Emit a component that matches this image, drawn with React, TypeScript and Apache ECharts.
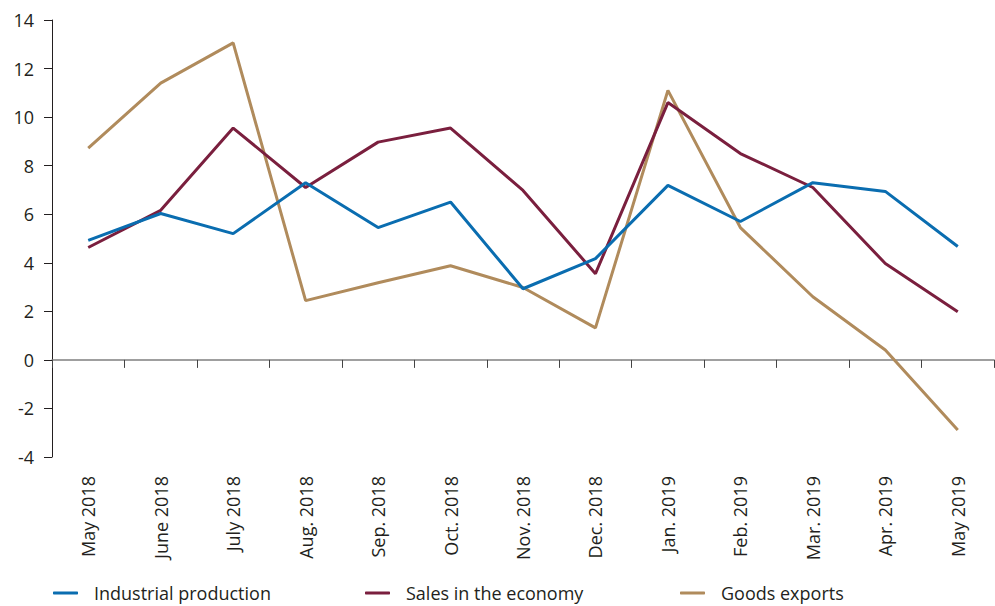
import React, { useEffect, useRef } from "react";
import * as echarts from "echarts";

const categories = [
  "May 2018", "June 2018", "July 2018", "Aug. 2018", "Sep. 2018", "Oct. 2018",
  "Nov. 2018", "Dec. 2018", "Jan. 2019", "Feb. 2019", "Mar. 2019", "Apr. 2019", "May 2019",
];
const industrialProduction = [4.92, 6.03, 5.2, 7.3, 5.45, 6.5, 2.93, 4.17, 7.19, 5.7, 7.3, 6.94, 4.67];
const salesInEconomy = [4.63, 6.16, 9.55, 7.1, 8.97, 9.55, 6.98, 3.55, 10.6, 8.5, 7.1, 3.97, 1.98];
const goodsExports = [8.72, 11.4, 13.06, 2.44, 3.18, 3.88, 2.98, 1.32, 11.1, 5.45, 2.6, 0.41, -2.89];
const seriesNames = ["Industrial production", "Sales in the economy", "Goods exports"];
const colors = ["#0a6db0", "#7a1f3e", "#b08b5c"];

const FONT = "Open Sans";
const TEXT = "#231f20";
const FS = 18;

export default function App() {
  const ref = useRef<HTMLDivElement>(null);
  useEffect(() => {
    if (!ref.current) return;
    const chart = echarts.init(ref.current, undefined, { renderer: "svg" });
    const values = [industrialProduction, salesInEconomy, goodsExports];
    const legendLefts = [53, 365, 680];
    chart.setOption({
      animation: false,
      grid: { left: 52, right: 1, top: 20, bottom: 149, containLabel: false },
      legend: seriesNames.map((n, i) => ({
        data: [n],
        left: legendLefts[i],
        top: 584,
        padding: 0,
        icon: "roundRect",
        itemWidth: 25,
        itemHeight: 3,
        textStyle: { fontFamily: FONT, fontSize: FS, color: TEXT, padding: [0, 0, 0, 11] },
      })),
      xAxis: [
        {
          type: "category",
          data: categories,
          boundaryGap: true,
          position: "bottom",
          axisLine: { show: false, onZero: false },
          axisTick: { show: false },
          axisLabel: {
            rotate: 90,
            margin: 19,
            fontFamily: FONT,
            fontSize: FS,
            color: TEXT,
            interval: 0,
          },
          splitLine: { show: false },
        },
        {
          type: "category",
          data: categories,
          boundaryGap: true,
          position: "bottom",
          axisLine: { show: true, onZero: true, lineStyle: { color: "#808080", width: 1.5 } },
          axisTick: { show: true, length: 8, interval: 0, lineStyle: { color: "#444", width: 1 } },
          axisLabel: { show: false },
          splitLine: { show: false },
        },
      ],
      yAxis: {
        type: "value",
        min: -4,
        max: 14,
        interval: 2,
        axisLine: { show: true, lineStyle: { color: TEXT, width: 1 } },
        axisTick: { show: true, length: 8, lineStyle: { color: TEXT, width: 1 } },
        axisLabel: { margin: 18, fontFamily: FONT, fontSize: FS, color: TEXT },
        splitLine: { show: false },
      },
      series: seriesNames.map((n, i) => ({
        name: n,
        type: "line",
        xAxisIndex: 0,
        data: values[i],
        symbol: "none",
        lineStyle: { color: colors[i], width: 3 },
        itemStyle: { color: colors[i] },
        z: 3 - i,
      })),
    });
    return () => chart.dispose();
  }, []);
  return <div ref={ref} style={{ width: 995, height: 606, position: "absolute", left: 0, top: 0 }} />;
}
